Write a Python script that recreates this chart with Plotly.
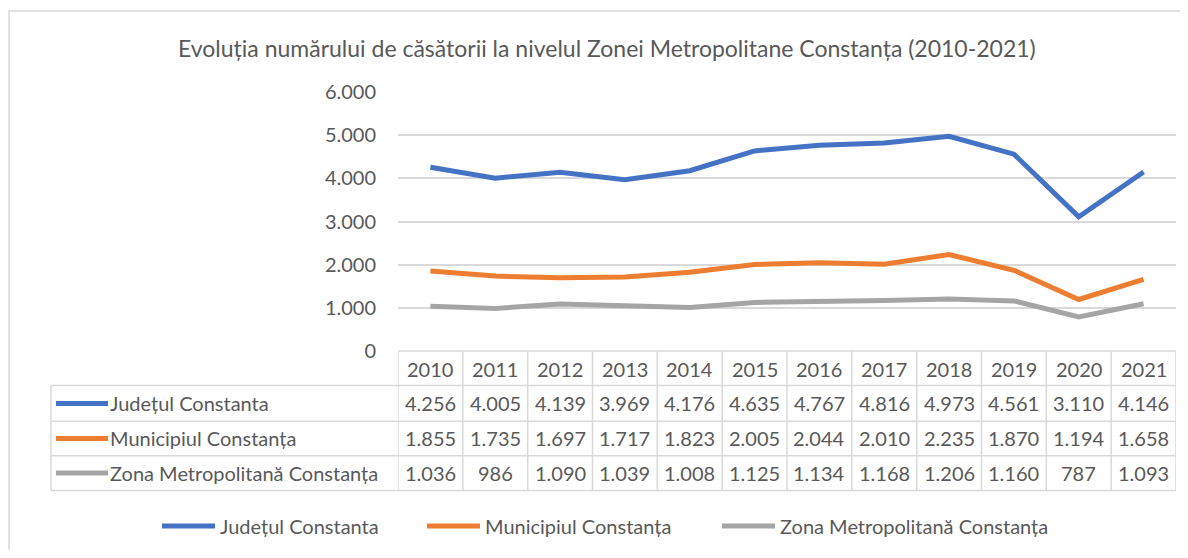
import plotly.graph_objects as go

# ---------------- data ----------------
years = ["2010", "2011", "2012", "2013", "2014", "2015", "2016", "2017", "2018", "2019", "2020", "2021"]
series_names = ["Județul Constanta", "Municipiul Constanța", "Zona Metropolitană Constanța"]
judetul = [4256, 4005, 4139, 3969, 4176, 4635, 4767, 4816, 4973, 4561, 3110, 4146]
municipiul = [1855, 1735, 1697, 1717, 1823, 2005, 2044, 2010, 2235, 1870, 1194, 1658]
zona = [1036, 986, 1090, 1039, 1008, 1125, 1134, 1168, 1206, 1160, 787, 1093]
y_ticks = [0, 1000, 2000, 3000, 4000, 5000, 6000]
title_text = "Evoluția numărului de căsătorii la nivelul Zonei Metropolitane Constanța (2010-2021)"

series_values = [judetul, municipiul, zona]
colors = ["#4472C4", "#ED7D31", "#A5A5A5"]

# ---------------- layout geometry (page pixels) ----------------
O = 8                                  # default page body margin
W, H = 1188 - 2 * O, 558 - 2 * O       # figure size so the page fits the window
PL, PR, PT, PB = 398, 1176, 92, 354    # plot area in page pixels
FONT = "Lato"
TXT = "#595959"
GRID = "#D9D9D9"


def px_x(p):
    return (p - PL) / (PR - PL)


def px_y(p):
    return (PB - p) / (PB - PT)


def fmt(v):
    return f"{v:,}".replace(",", ".")


fig = go.Figure()
legend_ids = ["legend", "legend2", "legend3"]
for name, vals, col, lg in zip(series_names, series_values, colors, legend_ids):
    fig.add_trace(go.Scatter(
        x=years, y=vals, name=name, mode="lines",
        line=dict(color=col, width=5),
        legend=lg, hoverinfo="x+y+name",
    ))

# ---------------- table ----------------
row_bounds = [354, 389, 425, 460, 495]
label_left = 51
shapes = []
annotations = []
TABLE_FONT = dict(family=FONT, size=20, color=TXT)

# horizontal lines
shapes.append(dict(type="line", xref="x", yref="paper", x0=-0.5, x1=len(years) - 0.5,
                   y0=px_y(row_bounds[0]), y1=px_y(row_bounds[0]),
                   line=dict(color=GRID, width=1.5)))
for rb in row_bounds[1:]:
    shapes.append(dict(type="line", xref="paper", yref="paper", x0=px_x(label_left), x1=1,
                       y0=px_y(rb), y1=px_y(rb), line=dict(color=GRID, width=1.5)))
# vertical lines at category boundaries
for i in range(len(years) + 1):
    shapes.append(dict(type="line", xref="x", yref="paper", x0=i - 0.5, x1=i - 0.5,
                       y0=px_y(row_bounds[0]), y1=px_y(row_bounds[-1]),
                       line=dict(color=GRID, width=1.5)))
# label column left border
shapes.append(dict(type="line", xref="paper", yref="paper", x0=px_x(label_left), x1=px_x(label_left),
                   y0=px_y(row_bounds[1]), y1=px_y(row_bounds[-1]),
                   line=dict(color=GRID, width=1.5)))

# header row (years) -- category index positions on the x axis
hdr_c = (row_bounds[0] + row_bounds[1]) / 2 + 1
for i, yr in enumerate(years):
    annotations.append(dict(x=i, xref="x", y=px_y(hdr_c), yref="paper", text=yr,
                            showarrow=False, xanchor="center", yanchor="middle",
                            font=TABLE_FONT))
# data rows
for r, (name, vals, col) in enumerate(zip(series_names, series_values, colors)):
    yc = (row_bounds[r + 1] + row_bounds[r + 2]) / 2
    for i, v in enumerate(vals):
        annotations.append(dict(x=i, xref="x", y=px_y(yc), yref="paper", text=fmt(v),
                                showarrow=False, xanchor="center", yanchor="middle",
                                font=TABLE_FONT))
    # legend key in the label column
    shapes.append(dict(type="line", xref="paper", yref="paper", x0=px_x(56), x1=px_x(108),
                       y0=px_y(yc), y1=px_y(yc), line=dict(color=col, width=5)))
    annotations.append(dict(x=px_x(108), xref="paper", y=px_y(yc), yref="paper", text=name,
                            showarrow=False, xanchor="left", yanchor="middle",
                            font=TABLE_FONT))

# title
annotations.append(dict(x=px_x(607), xref="paper", y=px_y(47), yref="paper", text=title_text,
                        showarrow=False, xanchor="center", yanchor="middle",
                        font=dict(family=FONT, size=23, color=TXT)))

# outer chart border
shapes.append(dict(type="rect", xref="paper", yref="paper", x0=px_x(9), x1=px_x(1300),
                   y0=px_y(700), y1=px_y(10), line=dict(color=GRID, width=1.5)))

legend_style = dict(orientation="h", xanchor="left", yanchor="middle", bgcolor="rgba(0,0,0,0)",
                    font=dict(family=FONT, size=20, color=TXT), itemwidth=53)
legend_pos = [157, 422, 717]
legend_cfg = {}
for lg, lx in zip(legend_ids, legend_pos):
    legend_cfg[lg] = dict(legend_style, x=px_x(lx), y=px_y(531))

fig.update_layout(
    width=W, height=H,
    margin=dict(l=PL - O, r=(W + O) - PR, t=PT - O, b=(H + O) - PB),
    paper_bgcolor="white", plot_bgcolor="white",
    separators=",.",
    showlegend=True,
    shapes=shapes, annotations=annotations,
    xaxis=dict(type="category", range=[-0.5, len(years) - 0.5], showgrid=False,
               showticklabels=False, ticks="", showline=False, zeroline=False),
    yaxis=dict(range=[0, 6000], tickvals=y_ticks, tickformat=",d", showgrid=True,
               gridcolor=GRID, gridwidth=1.5, zeroline=False, showline=False, ticks="",
               ticklabelstandoff=21,
               tickfont=dict(family=FONT, size=20, color=TXT)),
    **legend_cfg,
)

fig.write_html("out.html")
